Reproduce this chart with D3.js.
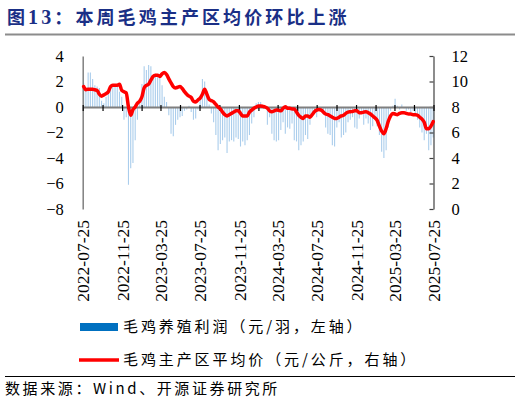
<!DOCTYPE html>
<html>
<head>
<meta charset="utf-8">
<script src="https://cdn.jsdelivr.net/npm/d3@7"></script>
<style>
  body { margin: 0; background: #fff; }
  svg { display: block; }
</style>
</head>
<body>
<div id="chart"></div>
<script>
// weekly series, first week then +7 days each
const firstWeek = new Date(2022, 6, 28);

// 毛鸡养殖利润 (元/羽, left axis)
const profit = [
  1.9, 1.4, 2.7, 2.7, 2.2, 1.7, 1.6, 1.5, 0.5, 0.3,
  0.8, 1.0, 1.6, 1.7, 1.6, 1.6, 1.2, 0.8, -1.0, -0.8,
  -6.1, -4.8, -4.4, -2.6, -1.0, 0.3, 1.8, 3.2, 2.9, 3.3,
  3.2, 2.5, 2.6, 2.4, 2.5, 1.7, 0.8, 0.4, -0.65, -2.1,
  -2.3, -1.4, -1.0, -0.8, -0.7, -0.3, -0.2, 0.1, -0.4, -1.0,
  -0.9, -0.2, 0.6, 2.2, 2.0, 0.9, 0.2, -0.5, -1.2, -2.2,
  -3.4, -2.9, -2.6, -2.4, -3.6, -2.7, -2.6, -2.7, -2.4, -2.5,
  -3.1, -2.7, -3.0, -2.6, -2.2, -1.3, -0.8, 0.3, 0.4, 0.4,
  0.1, 0.0, -1.4, -0.8, -2.1, -2.6, -2.7, -2.6, -1.8, -1.2,
  -2.1, -1.6, -1.7, -1.3, -2.6, -2.7, -3.4, -3.0, -2.7, -2.2,
  -2.5, -1.4, -0.8, -0.3, -0.8, -0.3, -0.2, -0.6, -1.6, -2.1,
  -2.2, -3.0, -3.1, -1.6, -1.2, -2.4, -2.2, -2.0, -1.2, -1.0,
  -0.8, -1.6, -1.7, -0.9, -0.5, -1.4, -0.9, -1.3, -1.8, -1.5,
  -0.7, -1.5, -2.2, -3.5, -4.0, -3.4, -1.6, -0.3, 0.1, 0.65,
  0.1, -0.2, 0.2, -0.1, -0.3, -0.2, -0.4, -0.3, -0.6, -1.0,
  -1.6, -2.0, -2.6, -2.1, -3.4, -3.0, -2.4
];

// 毛鸡主产区平均价 (元/公斤, right axis)
const price = [
  9.6, 9.35, 9.4, 9.4, 9.4, 9.35, 9.3, 9.0, 8.85, 8.95,
  9.05, 9.2, 9.6, 9.7, 9.7, 9.7, 9.78, 9.3, 9.2, 9.1,
  8.0, 7.35, 7.8, 8.0, 8.3, 8.45, 8.8, 9.5, 9.7, 9.8,
  10.1, 10.4, 10.5, 10.5, 10.4, 10.6, 10.7, 10.55, 10.2, 9.9,
  9.6, 9.5, 9.55, 9.6, 9.45, 9.2, 9.0, 8.85, 8.75, 8.45,
  8.4, 8.55, 8.7, 9.0, 9.4, 9.0, 8.6, 8.5, 8.4, 8.2,
  8.0, 7.85, 7.6, 7.4, 7.3, 7.4, 7.5, 7.6, 7.7, 7.7,
  7.5, 7.3, 7.3, 7.3, 7.6, 7.75, 7.9, 8.0, 8.08, 8.08,
  8.05, 8.0, 7.9, 7.7, 7.63, 7.7, 7.76, 7.75, 7.7, 7.9,
  8.02, 7.9, 7.9, 7.85, 7.85, 7.6, 7.35, 7.2, 7.1, 7.3,
  7.3, 7.2, 7.4, 7.63, 7.75, 7.8, 7.76, 7.6, 7.45, 7.4,
  7.3, 7.2, 7.1, 7.1, 7.2, 7.3, 7.35, 7.5, 7.6, 7.63,
  7.65, 7.7, 7.7, 7.55, 7.55, 7.6, 7.63, 7.55, 7.45, 7.3,
  7.15, 6.95, 6.5, 6.1, 5.9, 6.3, 6.9, 7.3, 7.5, 7.45,
  7.4, 7.5, 7.55, 7.55, 7.5, 7.45, 7.45, 7.4, 7.4, 7.35,
  7.2, 7.05, 6.8, 6.3, 6.3, 6.5, 6.85
];

const leftTicks = [-8, -6, -4, -2, 0, 2, 4];
const rightTicks = [0, 2, 4, 6, 8, 10, 12];
const axisStart = new Date(2022, 6, 25);
const axisEnd = new Date(2025, 6, 25);

const titleText = '本周毛鸡主产区均价环比上涨';
const legendNames = ['毛鸡养殖利润（元/羽，左轴）', '毛鸡主产区平均价（元/公斤，右轴）'];
const sourceText = '数据来源：Wind、开源证券研究所';

const width = 520, height = 402;
const plotLeft = 82.7, plotRight = 433.5, plotTop = 56, plotBottom = 209;
const serif = '"Liberation Serif", "Times New Roman", serif';
const cjk = '"Noto Sans CJK SC", sans-serif';

const data = profit.map((p, i) => ({
    date: d3.timeDay.offset(firstWeek, 7 * i),
    profit: p,
    price: price[i]
}));

const svg = d3.select('#chart')
    .append('svg')
    .attr('width', width)
    .attr('height', height);

// title
const title = svg.append('text')
    .attr('x', 7)
    .attr('y', 24)
    .attr('fill', '#1a2f86')
    .attr('font-family', cjk)
    .attr('font-weight', 'bold')
    .attr('font-size', 18)
    .attr('letter-spacing', 3.1);
title.append('tspan').text('图');
title.append('tspan').attr('font-family', serif).attr('font-size', 20).text('13');
title.append('tspan').text('：' + titleText);

svg.append('line')
    .attr('x1', 5).attr('x2', 515)
    .attr('y1', 34.5).attr('y2', 34.5)
    .attr('stroke', '#8c8c8c')
    .attr('stroke-width', 2);

// scales
const xScale = d3.scaleTime()
    .domain([axisStart, axisEnd])
    .range([plotLeft, plotRight]);

const yLeft = d3.scaleLinear()
    .domain([-8, 4])
    .range([plotBottom, plotTop]);

const yRight = d3.scaleLinear()
    .domain([0, 12])
    .range([plotBottom, plotTop]);

// bars
svg.append('g')
    .selectAll('line')
    .data(data)
    .enter()
    .append('line')
    .attr('x1', d => xScale(d.date))
    .attr('x2', d => xScale(d.date))
    .attr('y1', yLeft(0))
    .attr('y2', d => yLeft(d.profit))
    .attr('stroke', '#aacdec')
    .attr('stroke-width', 1.1);

// left axis
const leftAxis = svg.append('g')
    .attr('transform', 'translate(' + plotLeft + ',0)')
    .call(d3.axisLeft(yLeft).tickValues(leftTicks).tickSize(0).tickPadding(19));
leftAxis.select('.domain').attr('stroke', '#808080').attr('stroke-width', 1.5);
leftAxis.selectAll('text')
    .attr('font-family', serif)
    .attr('font-size', 16.5)
    .attr('fill', '#000');

// right axis
const rightAxis = svg.append('g')
    .attr('transform', 'translate(' + plotRight + ',0)')
    .call(d3.axisRight(yRight).tickValues(rightTicks).tickSizeInner(-4).tickSizeOuter(0).tickPadding(18));
rightAxis.select('.domain').attr('stroke', '#404040').attr('stroke-width', 1.2);
rightAxis.selectAll('line').attr('stroke', '#404040').attr('stroke-width', 1.2);
rightAxis.selectAll('text')
    .attr('font-family', serif)
    .attr('font-size', 16.5)
    .attr('fill', '#000');

// x axis at zero
const xTicks = d3.range(0, 19).map(k => d3.timeMonth.offset(axisStart, 2 * k));
const xAxis = svg.append('g')
    .attr('transform', 'translate(0,' + yLeft(0) + ')')
    .call(d3.axisBottom(xScale).tickValues(xTicks).tickSize(4).tickSizeOuter(0).tickFormat(''));
xAxis.select('.domain').attr('stroke', '#7f7f7f').attr('stroke-width', 2);
xAxis.selectAll('.tick line').attr('stroke', '#000').attr('stroke-width', 1.2).attr('y1', -2);

// x labels at bottom
const labelTicks = xTicks.filter((d, k) => k % 2 === 0);
const xLabels = svg.append('g')
    .attr('transform', 'translate(0,' + (plotBottom + 11) + ')')
    .call(d3.axisBottom(xScale).tickValues(labelTicks).tickSize(0).tickFormat(d3.timeFormat('%Y-%m-%d')));
xLabels.select('.domain').remove();
xLabels.selectAll('text')
    .attr('transform', 'rotate(-90)')
    .attr('text-anchor', 'end')
    .attr('x', 0)
    .attr('y', 0)
    .attr('dy', '0.35em')
    .attr('font-family', serif)
    .attr('font-size', 17.5)
    .attr('fill', '#000');

// price line
const line = d3.line()
    .x(d => xScale(d.date))
    .y(d => yRight(d.price))
    .curve(d3.curveMonotoneX);

svg.append('path')
    .datum(data)
    .attr('d', line)
    .attr('fill', 'none')
    .attr('stroke', '#ff0000')
    .attr('stroke-width', 3.5)
    .attr('stroke-linejoin', 'round')
    .attr('stroke-linecap', 'round');

// legend
const legend = svg.append('g');
legend.append('rect')
    .attr('x', 80).attr('y', 323)
    .attr('width', 38).attr('height', 8)
    .attr('fill', '#0070c0');
legend.append('line')
    .attr('x1', 79).attr('x2', 119)
    .attr('y1', 360).attr('y2', 360)
    .attr('stroke', '#ff0000')
    .attr('stroke-width', 3.5);
legend.selectAll('text')
    .data(legendNames)
    .enter()
    .append('text')
    .text(d => d)
    .attr('x', 123)
    .attr('y', (d, i) => 327 + i * 33)
    .attr('dy', '0.35em')
    .attr('font-family', cjk)
    .attr('font-size', 15)
    .attr('letter-spacing', 2.9)
    .attr('fill', '#000');

// source
svg.append('line')
    .attr('x1', 5).attr('x2', 515)
    .attr('y1', 376.5).attr('y2', 376.5)
    .attr('stroke', '#000')
    .attr('stroke-width', 1.2);

svg.append('text')
    .text(sourceText)
    .attr('x', 5)
    .attr('y', 394)
    .attr('font-family', cjk)
    .attr('font-size', 15)
    .attr('letter-spacing', 2.6)
    .attr('fill', '#000');
</script>
</body>
</html>
